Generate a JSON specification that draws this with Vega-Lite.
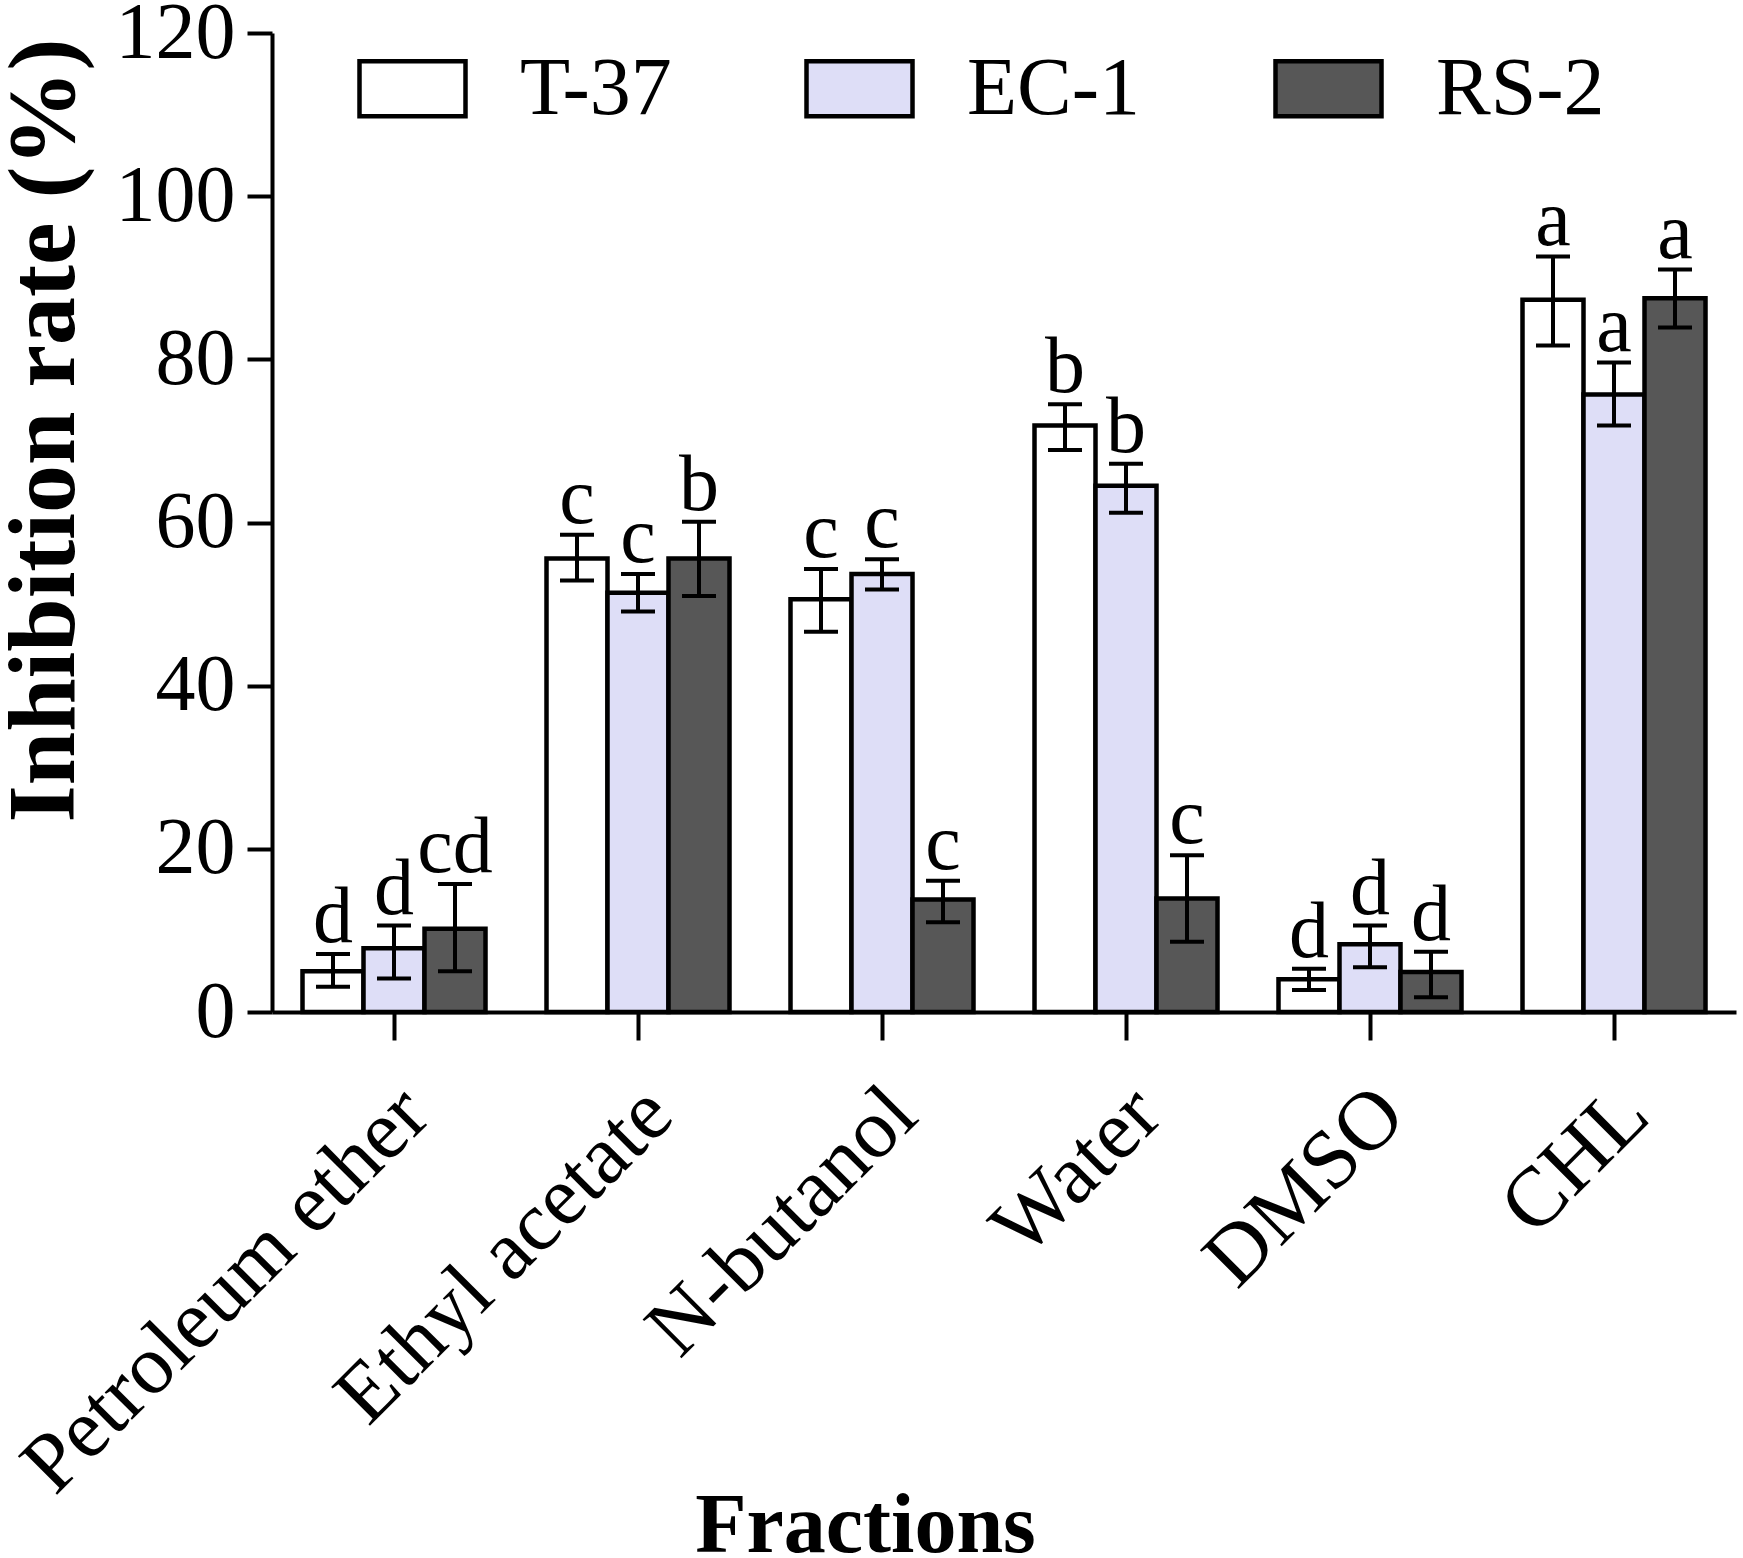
{
  "$schema": "https://vega.github.io/schema/vega-lite/v6.json",
  "width": 1464,
  "height": 979,
  "autosize": "none",
  "padding": {"left": 272, "top": 33, "right": 7, "bottom": 546},
  "background": "white",
  "config": {"view": {"stroke": null}, "font": "Liberation Serif"},
  "data": {
    "values": [
      {"fraction": "Petroleum ether", "strain": "T-37", "mean": 5.0, "lo": 3.1, "hi": 7.1, "sig": "d"},
      {"fraction": "Petroleum ether", "strain": "EC-1", "mean": 7.8, "lo": 4.1, "hi": 10.6, "sig": "d"},
      {"fraction": "Petroleum ether", "strain": "RS-2", "mean": 10.2, "lo": 5.0, "hi": 15.7, "sig": "cd"},
      {"fraction": "Ethyl acetate", "strain": "T-37", "mean": 55.6, "lo": 52.9, "hi": 58.5, "sig": "c"},
      {"fraction": "Ethyl acetate", "strain": "EC-1", "mean": 51.4, "lo": 49.1, "hi": 53.7, "sig": "c"},
      {"fraction": "Ethyl acetate", "strain": "RS-2", "mean": 55.6, "lo": 51.0, "hi": 60.1, "sig": "b"},
      {"fraction": "N-butanol", "strain": "T-37", "mean": 50.6, "lo": 46.6, "hi": 54.3, "sig": "c"},
      {"fraction": "N-butanol", "strain": "EC-1", "mean": 53.7, "lo": 51.8, "hi": 55.5, "sig": "c"},
      {"fraction": "N-butanol", "strain": "RS-2", "mean": 13.8, "lo": 11.0, "hi": 16.1, "sig": "c"},
      {"fraction": "Water", "strain": "T-37", "mean": 71.9, "lo": 68.9, "hi": 74.5, "sig": "b"},
      {"fraction": "Water", "strain": "EC-1", "mean": 64.5, "lo": 61.2, "hi": 67.2, "sig": "b"},
      {"fraction": "Water", "strain": "RS-2", "mean": 13.9, "lo": 8.6, "hi": 19.2, "sig": "c"},
      {"fraction": "DMSO", "strain": "T-37", "mean": 4.0, "lo": 2.7, "hi": 5.3, "sig": "d"},
      {"fraction": "DMSO", "strain": "EC-1", "mean": 8.3, "lo": 5.5, "hi": 10.6, "sig": "d"},
      {"fraction": "DMSO", "strain": "RS-2", "mean": 4.9, "lo": 1.8, "hi": 7.4, "sig": "d"},
      {"fraction": "CHL", "strain": "T-37", "mean": 87.3, "lo": 81.7, "hi": 92.6, "sig": "a"},
      {"fraction": "CHL", "strain": "EC-1", "mean": 75.7, "lo": 71.9, "hi": 79.6, "sig": "a"},
      {"fraction": "CHL", "strain": "RS-2", "mean": 87.5, "lo": 83.9, "hi": 91.0, "sig": "a"}
    ]
  },
  "encoding": {
    "x": {
      "field": "fraction",
      "type": "nominal",
      "sort": ["Petroleum ether", "Ethyl acetate", "N-butanol", "Water", "DMSO", "CHL"],
      "scale": {"paddingInner": 0.25, "paddingOuter": 0.125},
      "axis": {
        "title": "Fractions",
        "titleFontSize": 84,
        "titleFontWeight": "bold",
        "titleColor": "black",
        "titleX": 593,
        "titleY": 539,
        "titleAlign": "center",
        "titleBaseline": "alphabetic",
        "labelAngle": -45,
        "labelFontSize": 84,
        "labelColor": "black",
        "labelPadding": 32,
        "labelOffset": -8,
        "labelLimit": 800,
        "domainColor": "black",
        "domainWidth": 4,
        "tickColor": "black",
        "tickWidth": 4,
        "tickSize": 28
      }
    },
    "xOffset": {
      "field": "strain",
      "type": "nominal",
      "sort": ["T-37", "EC-1", "RS-2"],
      "scale": {"paddingInner": 0, "paddingOuter": 0}
    }
  },
  "layer": [
    {
      "mark": {"type": "bar", "stroke": "black", "strokeWidth": 4.5},
      "encoding": {
        "y": {
          "field": "mean",
          "type": "quantitative",
          "scale": {"domain": [0, 120]},
          "axis": {
            "values": [0, 20, 40, 60, 80, 100, 120],
            "grid": false,
            "title": "Inhibition rate (%)",
            "titleFontSize": 96,
            "titleFontWeight": "bold",
            "titleColor": "black",
            "titleAngle": -90,
            "titleX": -228,
            "titleY": 397,
            "titleAlign": "center",
            "titleBaseline": "middle",
            "labelFontSize": 80,
            "labelColor": "black",
            "labelPadding": 12,
            "domainColor": "black",
            "domainWidth": 4,
            "tickColor": "black",
            "tickWidth": 4,
            "tickSize": 25
          }
        },
        "fill": {
          "field": "strain",
          "type": "nominal",
          "sort": ["T-37", "EC-1", "RS-2"],
          "scale": {"domain": ["T-37", "EC-1", "RS-2"], "range": ["#ffffff", "#dedef7", "#575757"]},
          "legend": {
            "orient": "none",
            "legendX": 85,
            "legendY": 0,
            "direction": "horizontal",
            "title": null,
            "symbolType": "M-1,-0.52H1V0.52H-1Z",
            "symbolSize": 11236,
            "symbolStrokeColor": "black",
            "symbolStrokeWidth": 4.5,
            "symbolOpacity": 1,
            "labelFontSize": 82,
            "labelColor": "black",
            "labelLimit": 500,
            "labelOffset": 52,
            "columnPadding": 125
          }
        }
      }
    },
    {
      "mark": {"type": "rule", "color": "black", "strokeWidth": 4},
      "encoding": {
        "y": {"field": "lo", "type": "quantitative"},
        "y2": {"field": "hi"}
      }
    },
    {
      "mark": {"type": "tick", "color": "black", "size": 34, "thickness": 4, "opacity": 1},
      "encoding": {
        "y": {"field": "lo", "type": "quantitative"}
      }
    },
    {
      "mark": {"type": "tick", "color": "black", "size": 34, "thickness": 4, "opacity": 1},
      "encoding": {
        "y": {"field": "hi", "type": "quantitative"}
      }
    },
    {
      "mark": {"type": "text", "color": "black", "fontSize": 80, "baseline": "alphabetic", "dy": -12},
      "encoding": {
        "y": {"field": "hi", "type": "quantitative"},
        "text": {"field": "sig"}
      }
    }
  ]
}
